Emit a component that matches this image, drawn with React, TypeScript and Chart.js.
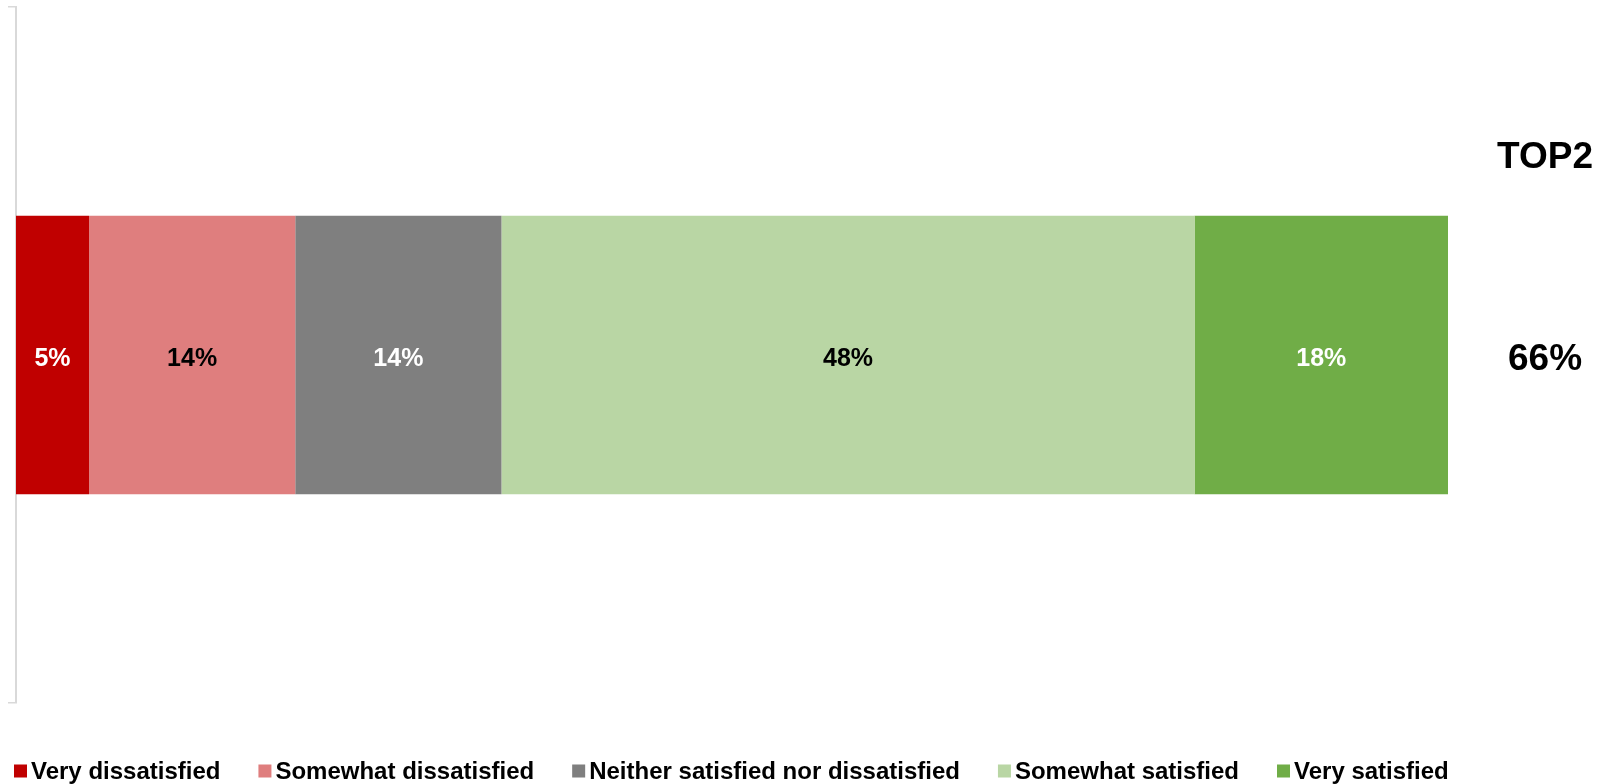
import React, { useEffect, useRef } from "react";
import { Chart, registerables } from "chart.js";

Chart.register(...registerables);

const categories = ["Satisfaction"];
const seriesNames = [
  "Very dissatisfied",
  "Somewhat dissatisfied",
  "Neither satisfied nor dissatisfied",
  "Somewhat satisfied",
  "Very satisfied",
];
const seriesValues = [5.1, 14.4, 14.4, 48.4, 17.7];
const seriesColors = ["#C00000", "#DF7E7E", "#7F7F7F", "#B9D6A4", "#70AD47"];
const labelColors = ["#FFFFFF", "#000000", "#FFFFFF", "#000000", "#FFFFFF"];
const topLabel = "TOP2";
const topIndices = [3, 4];

const FONT = "'Liberation Sans', Arial, sans-serif";

const barLabelsPlugin = {
  id: "barLabels",
  afterDatasetsDraw(chart: any) {
    const ctx = chart.ctx;
    ctx.save();
    ctx.font = `bold 25px ${FONT}`;
    ctx.textAlign = "center";
    ctx.textBaseline = "middle";
    chart.data.datasets.forEach((ds: any, i: number) => {
      const meta = chart.getDatasetMeta(i);
      meta.data.forEach((el: any, j: number) => {
        const v = ds.data[j];
        const cx = (el.x + el.base) / 2;
        ctx.fillStyle = labelColors[i];
        ctx.fillText(`${Math.round(v)}%`, cx, el.y + 4);
      });
    });
    ctx.restore();
  },
};

const topPlugin = {
  id: "top2",
  afterDraw(chart: any) {
    const ctx = chart.ctx;
    const area = chart.chartArea;
    const el = chart.getDatasetMeta(0).data[0];
    const total = topIndices.reduce((s, i) => s + seriesValues[i], 0);
    const cx = area.right + 97;
    ctx.save();
    ctx.fillStyle = "#000000";
    ctx.font = `bold 37px ${FONT}`;
    ctx.textAlign = "center";
    ctx.textBaseline = "middle";
    const top = el.y - el.height / 2;
    ctx.fillText(topLabel, cx, top - 58);
    ctx.fillText(`${Math.round(total)}%`, cx, el.y + 5);
    ctx.restore();
  },
};

const legendPlugin = {
  id: "customLegend",
  afterDraw(chart: any) {
    const ctx = chart.ctx;
    const cy = 771;
    let x = 14;
    const gap = 38;
    ctx.save();
    ctx.font = `bold 24px ${FONT}`;
    ctx.textAlign = "left";
    ctx.textBaseline = "middle";
    chart.data.datasets.forEach((ds: any) => {
      ctx.fillStyle = ds.backgroundColor;
      ctx.fillRect(x, cy - 6.5, 13, 13);
      ctx.fillStyle = "#000000";
      ctx.fillText(ds.label, x + 17, cy + 1);
      x += 17 + ctx.measureText(ds.label).width + gap;
    });
    ctx.restore();
  },
};

export default function App() {
  const ref = useRef<HTMLCanvasElement | null>(null);
  useEffect(() => {
    const chart = new Chart(ref.current as HTMLCanvasElement, {
      type: "bar",
      data: {
        labels: categories,
        datasets: seriesNames.map((name, i) => ({
          label: name,
          data: [seriesValues[i]],
          backgroundColor: seriesColors[i],
          borderWidth: 0,
          barPercentage: 0.4,
          categoryPercentage: 1,
        })),
      },
      options: {
        indexAxis: "y",
        responsive: false,
        animation: false,
        layout: { padding: { left: 8, right: 149, top: 7, bottom: 81 } },
        plugins: { legend: { display: false }, tooltip: { enabled: false } },
        scales: {
          x: { stacked: true, display: false, min: 0, max: 100 },
          y: {
            stacked: true,
            display: true,
            ticks: { display: false },
            grid: {
              offset: true,
              drawOnChartArea: false,
              tickLength: 8,
              color: "#D9D9D9",
              lineWidth: 1.5,
            },
            border: { color: "#D9D9D9", width: 2 },
          },
        },
      },
      plugins: [barLabelsPlugin, topPlugin, legendPlugin],
    });
    return () => chart.destroy();
  }, []);
  return (
    <div style={{ position: "fixed", left: 0, top: 0, width: 1597, height: 784, background: "#fff" }}>
      <canvas ref={ref} width={1597} height={784} />
    </div>
  );
}
